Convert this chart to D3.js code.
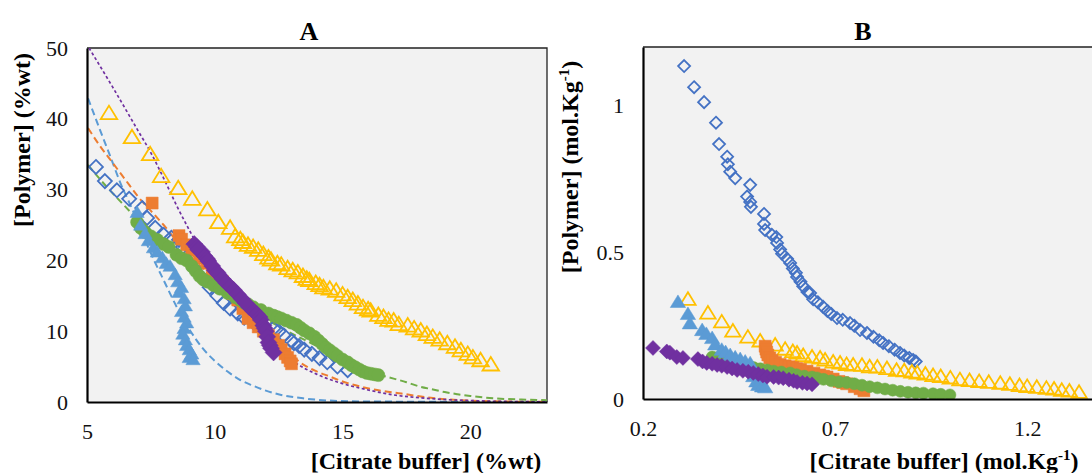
<!DOCTYPE html>
<html><head><meta charset="utf-8">
<script src="https://cdn.jsdelivr.net/npm/d3@7"></script>
<style>body{margin:0;background:#fff}svg{display:block}text{font-family:"Liberation Serif","Times New Roman",serif}</style>
</head><body><svg id="c" width="1092" height="473"></svg>
<script>
// ---------- DATA (Panel A: %wt) ----------
const aXTicks = [5, 10, 15, 20];
const aYTicks = [0, 10, 20, 30, 40, 50];
const aBlueDiamond = [[5.35,33.2],[5.7,31.2],[6.17,29.9],[6.65,28.7],[7.16,27.4],[7.35,26.0],[7.67,24.6],[8.0,23.6],[8.3,23.2],[8.6,22.9],[8.75,21.9],[9.0,20.3],[9.2,18.8],[9.5,17.5],[9.8,16.2],[10.1,15.0],[10.35,14.0],[10.6,13.2],[10.9,12.5],[11.15,11.9],[11.5,11.3],[11.9,10.8],[12.3,10.4],[12.5,10.0],[12.7,9.4],[13.0,8.6],[13.1,8.3],[13.3,7.9],[13.5,7.4],[13.8,6.8],[14.1,6.2],[14.4,5.6],[14.8,5.0],[15.2,4.5]];
const aOrange = [[7.55,28.1],[8.6,23.5],[8.7,23.0],[8.9,22.2],[9.1,21.4],[9.4,20.3],[9.7,19.6],[9.9,18.6],[10.1,17.8],[10.3,17.0],[10.5,16.2],[10.7,15.3],[10.9,14.4],[11.1,13.2],[11.3,11.8],[11.5,11.2],[11.7,10.6],[11.9,10.0],[12.1,9.4],[12.3,8.8],[12.5,8.0],[12.6,7.4],[12.75,6.8],[12.85,6.3],[12.95,5.8],[13.0,5.4]];
const aLightBlue = [[6.96,26.8],[7.1,25.0],[7.27,23.8],[7.4,22.8],[7.6,21.8],[7.75,21.2],[7.95,20.4],[8.1,19.6],[8.25,19.2],[8.45,18.0],[8.55,17.0],[8.7,16.2],[8.6,15.5],[8.8,14.6],[8.85,13.6],[8.7,12.8],[8.8,12.0],[8.9,11.2],[8.8,10.4],[8.75,9.6],[8.85,8.8],[8.9,8.0],[9.0,7.4],[9.1,6.8],[9.0,6.3],[9.15,6.0]];
const aYellow = [[5.86,40.8],[6.76,37.4],[7.47,35.0],[7.9,31.9],[8.57,30.2],[9.12,28.7],[9.71,27.2],[10.14,25.4],[10.6,24.6],[10.8,23.4],[11.0,23.0],[11.1,22.6],[11.3,22.2],[11.5,21.9],[11.7,21.5],[11.9,20.9],[12.1,20.4],[12.2,20.1],[12.45,19.6],[12.6,19.4],[12.85,18.9],[13.05,18.6],[13.25,18.3],[13.45,17.8],[13.6,17.4],[13.7,17.2],[13.95,16.8],[14.1,16.5],[14.25,16.2],[14.5,16.0],[14.75,15.7],[15.0,15.2],[15.2,14.8],[15.4,14.4],[15.6,13.9],[15.8,13.4],[16.0,13.1],[16.1,12.9],[16.4,12.3],[16.6,12.0],[16.8,11.6],[17.0,11.5],[17.2,11.0],[17.55,10.8],[17.8,10.4],[18.06,10.1],[18.3,9.6],[18.53,9.2],[18.8,8.8],[19.1,8.3],[19.4,7.8],[19.63,7.3],[19.9,6.8],[20.1,6.3],[20.4,5.9],[20.8,5.3]];
const aPurple = [[9.2,22.3],[9.3,21.9],[9.35,21.5],[9.5,21.2],[9.6,20.6],[9.7,20.2],[9.75,19.9],[9.9,19.2],[10.0,18.6],[10.1,18.3],[10.15,18.0],[10.3,17.4],[10.45,16.8],[10.6,16.3],[10.75,15.8],[10.9,15.2],[11.05,14.6],[11.2,14.0],[11.35,13.4],[11.5,12.9],[11.65,12.4],[11.75,12.0],[11.8,11.6],[11.9,10.8],[11.95,10.4],[12.0,10.0],[12.05,9.2],[12.1,8.4],[12.15,8.0],[12.2,7.6],[12.3,7.0]];
const aGreen = [[6.96,25.4],[7.1,24.6],[7.27,24.0],[7.5,23.4],[7.75,22.9],[8.0,22.3],[8.2,21.9],[8.5,20.8],[8.7,20.3],[8.9,20.0],[9.1,19.2],[9.25,18.5],[9.4,17.8],[9.55,17.3],[9.7,17.0],[9.95,16.5],[10.2,16.0],[10.5,15.4],[10.8,14.8],[11.0,14.4],[11.15,14.0],[11.3,13.8],[11.5,13.4],[11.8,13.0],[12.1,12.5],[12.3,12.2],[12.45,12.0],[12.6,11.8],[12.8,11.5],[13.0,11.2],[13.2,10.9],[13.35,10.5],[13.5,10.1],[13.7,9.7],[13.9,9.2],[14.05,8.7],[14.2,8.2],[14.35,7.7],[14.5,7.3],[14.65,6.9],[14.8,6.5],[15.0,6.0],[15.2,5.6],[15.35,5.2],[15.5,4.9],[15.65,4.6],[15.8,4.3],[15.95,4.1],[16.1,4.0],[16.25,3.9],[16.4,3.8]];
// fitted curves (panel A)
const aFitPurple = [[5.08,50],[6,44.5],[7,38.3],[7.5,35.2],[8,31.6],[8.5,27.8],[9,24.3],[9.5,21.0],[10,18.0],[11,13.0],[12,9.0],[13,5.9],[14,3.9],[15,2.6],[16,1.7],[17,1.0],[18,0.6],[19,0.35],[20,0.2],[21,0.1],[22,0.05],[23,0.02]];
const aFitLightBlue = [[5.04,42.9],[5.5,38.5],[5.9,34.8],[6.3,31.0],[6.8,27.0],[7.2,23.5],[7.6,20.2],[8.0,17.2],[8.5,13.5],[9.0,10.3],[9.5,7.7],[10,5.8],[10.5,4.3],[11,3.1],[11.5,2.3],[12,1.6],[12.6,1.0],[13.5,0.5],[14.5,0.2],[16,0.07],[23,0]];
const aFitOrange = [[5.04,38.7],[5.5,36.2],[6,33.8],[6.5,31.4],[7,29.0],[7.5,27.0],[8,25.0],[8.5,22.8],[9,20.8],[9.5,19.0],[10,17.2],[10.5,15.5],[11,13.6],[11.5,11.8],[12,10.0],[12.5,8.4],[13,6.6],[13.5,5.2],[14,4.3],[14.5,3.6],[15,2.9],[15.8,2.1],[16.5,1.6],[17.3,1.2],[18,0.8],[19,0.4],[20,0.2],[21,0.1],[23,0.02]];
const aFitGreen = [[5.04,33.5],[5.5,31.5],[6,29.5],[6.5,27.6],[7,25.7],[7.5,23.9],[8,22.1],[8.5,20.5],[9,19.0],[9.5,17.6],[10,16.3],[10.5,15.0],[11,13.8],[11.5,12.7],[12,11.7],[12.5,10.7],[13,9.7],[13.5,8.8],[14,7.9],[14.5,7.0],[15,6.1],[15.5,5.2],[16,4.4],[16.5,3.8],[17,3.3],[17.5,2.8],[18,2.2],[18.5,1.8],[19,1.4],[19.5,1.1],[20,0.85],[20.5,0.65],[21,0.5],[22,0.35],[23,0.25]];

// ---------- DATA (Panel B: mol/kg) ----------
const bXTicks = [0.2, 0.7, 1.2];
const bYTicks = [0, 0.5, 1];
const bBlueDiamond = [[0.307,1.135],[0.333,1.063],[0.359,1.012],[0.39,0.942],[0.398,0.869],[0.419,0.826],[0.421,0.80],[0.427,0.775],[0.44,0.753],[0.479,0.73],[0.471,0.69],[0.479,0.672],[0.481,0.655],[0.515,0.631],[0.515,0.597],[0.518,0.576],[0.535,0.56],[0.547,0.552],[0.549,0.532],[0.557,0.51],[0.562,0.495],[0.575,0.478],[0.583,0.464],[0.59,0.445],[0.598,0.43],[0.601,0.416],[0.61,0.40],[0.617,0.384],[0.628,0.365],[0.635,0.361],[0.643,0.34],[0.655,0.33],[0.669,0.314],[0.68,0.30],[0.69,0.29],[0.705,0.276],[0.72,0.27],[0.739,0.259],[0.75,0.25],[0.765,0.235],[0.783,0.225],[0.80,0.212],[0.815,0.20],[0.825,0.191],[0.84,0.18],[0.855,0.168],[0.869,0.157],[0.88,0.148],[0.893,0.14],[0.903,0.133],[0.91,0.128]];
const bOrange = [[0.518,0.18],[0.52,0.17],[0.522,0.16],[0.525,0.15],[0.53,0.14],[0.536,0.132],[0.545,0.125],[0.557,0.118],[0.57,0.113],[0.58,0.11],[0.59,0.108],[0.6,0.104],[0.61,0.101],[0.627,0.095],[0.645,0.088],[0.66,0.082],[0.67,0.078],[0.679,0.075],[0.695,0.068],[0.71,0.06],[0.72,0.056],[0.73,0.052],[0.75,0.042],[0.765,0.035],[0.775,0.028]];
const bLightBlue = [[0.291,0.331],[0.317,0.29],[0.322,0.258],[0.354,0.235],[0.365,0.222],[0.38,0.208],[0.388,0.186],[0.405,0.168],[0.415,0.16],[0.427,0.15],[0.44,0.142],[0.453,0.136],[0.466,0.128],[0.479,0.122],[0.484,0.1],[0.487,0.078],[0.495,0.06],[0.5,0.048],[0.51,0.043],[0.518,0.04]];
const bYellow = [[0.317,0.34],[0.369,0.293],[0.405,0.263],[0.434,0.232],[0.473,0.211],[0.505,0.198],[0.544,0.184],[0.57,0.17],[0.59,0.162],[0.601,0.157],[0.617,0.148],[0.64,0.143],[0.661,0.14],[0.674,0.133],[0.695,0.126],[0.713,0.123],[0.73,0.118],[0.747,0.116],[0.77,0.115],[0.79,0.11],[0.81,0.109],[0.835,0.104],[0.86,0.098],[0.88,0.096],[0.9,0.092],[0.914,0.089],[0.935,0.085],[0.955,0.08],[0.975,0.077],[1.0,0.072],[1.025,0.066],[1.05,0.063],[1.075,0.06],[1.1,0.057],[1.13,0.054],[1.155,0.05],[1.18,0.046],[1.2,0.043],[1.225,0.04],[1.25,0.037],[1.27,0.034],[1.29,0.03],[1.31,0.027],[1.335,0.023]];
const bPurple = [[0.226,0.174],[0.262,0.162],[0.27,0.158],[0.288,0.143],[0.304,0.14],[0.343,0.136],[0.355,0.128],[0.366,0.123],[0.38,0.12],[0.393,0.116],[0.405,0.113],[0.419,0.109],[0.432,0.104],[0.445,0.099],[0.46,0.096],[0.474,0.093],[0.487,0.089],[0.5,0.085],[0.512,0.08],[0.523,0.076],[0.54,0.075],[0.553,0.073],[0.565,0.071],[0.58,0.066],[0.592,0.062],[0.601,0.058],[0.615,0.055],[0.627,0.053],[0.64,0.05]];
const bGreen = [[0.38,0.143],[0.39,0.14],[0.405,0.133],[0.42,0.128],[0.435,0.122],[0.453,0.116],[0.47,0.111],[0.488,0.107],[0.505,0.103],[0.523,0.099],[0.54,0.095],[0.56,0.092],[0.583,0.089],[0.6,0.083],[0.62,0.078],[0.64,0.075],[0.653,0.072],[0.67,0.067],[0.69,0.062],[0.71,0.058],[0.73,0.056],[0.75,0.052],[0.77,0.047],[0.79,0.042],[0.81,0.038],[0.83,0.034],[0.85,0.03],[0.87,0.026],[0.89,0.023],[0.91,0.021],[0.93,0.02],[0.955,0.018],[0.975,0.016],[0.999,0.014]];

// ---------- RENDER ----------
const C = {blue:"#4472c4", orange:"#ed7d31", lblue:"#5b9bd5", yellow:"#ffc000", purple:"#7030a0", green:"#70ad47"};
const FONT = '"Liberation Serif","Times New Roman",serif';
const svg = d3.select("#c");
const shapes = {
  diamond: r => `M0,${-r}L${r},0L0,${r}L${-r},0Z`,
  square: r => `M${-r},${-r}H${r}V${r}H${-r}Z`,
  triangle: r => `M0,${-r}L${r*1.1},${r*0.8}L${-r*1.1},${r*0.8}Z`,
  circle: r => `M${r},0A${r},${r} 0 1,1 ${-r},0A${r},${r} 0 1,1 ${r},0Z`
};

function panel(cfg){
  const x = d3.scaleLinear().domain(cfg.xd).range([cfg.l, cfg.r]);
  const y = d3.scaleLinear().domain(cfg.yd).range([cfg.b, cfg.t]);
  const g = svg.append("g");
  const cid = "clip"+cfg.id;
  svg.append("clipPath").attr("id",cid).append("rect")
    .attr("x",cfg.l).attr("y",cfg.t).attr("width",cfg.r-cfg.l).attr("height",cfg.b-cfg.t);
  g.append("rect").attr("x",cfg.l).attr("y",cfg.t).attr("width",cfg.r-cfg.l).attr("height",cfg.b-cfg.t)
    .attr("fill","#f2f2f2");
  g.append("path").attr("d",`M${cfg.l},${cfg.t}H${cfg.r}V${cfg.b}`).attr("fill","none").attr("stroke","#222").attr("stroke-width",1.3);
  const plot = g.append("g").attr("clip-path",`url(#${cid})`);
  const line = d3.line().x(d=>x(d[0])).y(d=>y(d[1])).curve(d3.curveMonotoneX);
  (cfg.fits||[]).forEach(f=>{
    plot.append("path").attr("d",line(f.data)).attr("fill","none").attr("stroke",f.color)
      .attr("stroke-width",f.w).attr("stroke-dasharray",f.dash);
  });
  cfg.series.forEach(s=>{
    plot.append("g").selectAll("path").data(s.data).join("path")
      .attr("transform",d=>`translate(${x(d[0])},${y(d[1])})`)
      .attr("d",shapes[s.shape](s.r))
      .attr("fill",s.open?"none":s.color)
      .attr("stroke",s.color).attr("stroke-width",s.open?1.8:0.5);
  });
  const ax = g.append("g").attr("transform",`translate(0,${cfg.b})`)
    .call(d3.axisBottom(x).tickValues(cfg.xt).tickSize(0).tickPadding(21).tickFormat(d=>d));
  const ay = g.append("g").attr("transform",`translate(${cfg.l},0)`)
    .call(d3.axisLeft(y).tickValues(cfg.yt).tickSize(0).tickPadding(19).tickFormat(d=>d));
  [ax,ay].forEach(a=>{
    a.attr("font-family",FONT).attr("font-size",22);
    a.select(".domain").attr("stroke","#000").attr("stroke-width",2.2);
    a.selectAll("text").attr("fill","#111");
  });
  return {x,y};
}

panel({id:"A", l:87, r:547, t:48, b:402, xd:[5,23], yd:[0,50], xt:aXTicks, yt:aYTicks,
  fits:[
    {data:aFitLightBlue,color:C.lblue,w:2,dash:"7,4"},
    {data:aFitOrange,color:C.orange,w:2,dash:"7,4"},
    {data:aFitGreen,color:C.green,w:2,dash:"7,4"},
    {data:aFitPurple,color:C.purple,w:1.7,dash:"3,2.5"}
  ],
  series:[
    {data:aBlueDiamond,shape:"diamond",r:7,color:C.blue,open:true},
    {data:aYellow,shape:"triangle",r:7.5,color:C.yellow,open:true},
    {data:aOrange,shape:"square",r:6,color:C.orange},
    {data:aGreen,shape:"circle",r:6.5,color:C.green},
    {data:aLightBlue,shape:"triangle",r:6.5,color:C.lblue},
    {data:aPurple,shape:"diamond",r:8.5,color:C.purple}
  ]});

panel({id:"B", l:643, r:1104, t:47, b:399, xd:[0.2,1.4], yd:[0,1.2], xt:bXTicks, yt:bYTicks,
  series:[
    {data:bBlueDiamond,shape:"diamond",r:6,color:C.blue,open:true},
    {data:bYellow,shape:"triangle",r:7,color:C.yellow,open:true},
    {data:bOrange,shape:"square",r:6,color:C.orange},
    {data:bGreen,shape:"circle",r:6,color:C.green},
    {data:bLightBlue,shape:"triangle",r:7,color:C.lblue},
    {data:bPurple,shape:"diamond",r:7.5,color:C.purple}
  ]});

// titles & labels
const T = (x,y,size,rot)=> svg.append("text").attr("font-family",FONT).attr("font-size",size).attr("font-weight","bold")
    .attr("text-anchor","middle").attr("fill","#000")
    .attr("transform",`translate(${x},${y})`+(rot?" rotate(-90)":""));
T(309,40,26).text("A");
T(863,40,26).text("B");
T(426,469,24).text("[Citrate buffer] (%wt)");
T(30,140,24,true).text("[Polymer] (%wt)");
const xb = T(944,469,24);
xb.append("tspan").text("[Citrate buffer] (mol.Kg");
xb.append("tspan").attr("font-size",15).attr("dy",-9).text("-1");
xb.append("tspan").attr("dy",9).text(")");
const yb = T(578,167,24,true);
yb.append("tspan").text("[Polymer] (mol.Kg");
yb.append("tspan").attr("font-size",15).attr("dy",-9).text("-1");
yb.append("tspan").attr("dy",9).text(")");
</script></body></html>
